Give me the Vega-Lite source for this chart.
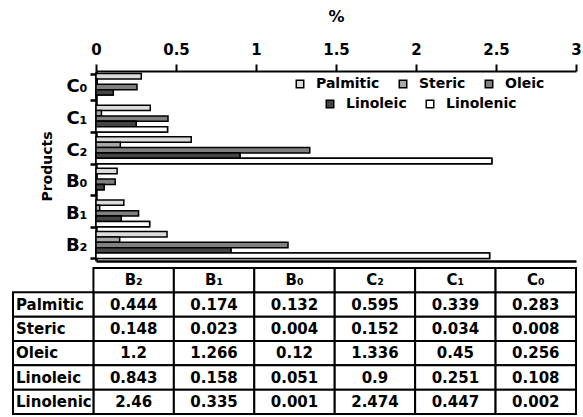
{
  "$schema": "https://vega.github.io/schema/vega-lite/v6.json",
  "background": "white",
  "padding": {"left": 12, "top": 8, "right": 0, "bottom": 0},
  "spacing": 6,
  "config": {
    "view": {"stroke": null},
    "font": "DejaVu Sans",
    "axis": {
      "labelFont": "DejaVu Sans", "titleFont": "DejaVu Sans",
      "labelFontWeight": "bold", "titleFontWeight": "bold",
      "labelColor": "black", "titleColor": "black",
      "domainColor": "black", "tickColor": "black", "grid": false
    },
    "legend": {
      "labelFont": "DejaVu Sans", "labelFontWeight": "bold", "labelFontSize": 14,
      "labelColor": "black", "symbolType": "square", "symbolSize": 56,
      "symbolStrokeColor": "black", "symbolStrokeWidth": 1.5, "labelOffset": 9,
      "columnPadding": 16, "padding": 0, "symbolOpacity": 1
    }
  },
  "datasets": {
    "fat": [
      {"product": "B₂", "series": "Palmitic", "value": 0.444, "label": "0.444"},
      {"product": "B₂", "series": "Steric", "value": 0.148, "label": "0.148"},
      {"product": "B₂", "series": "Oleic", "value": 1.2, "label": "1.2"},
      {"product": "B₂", "series": "Linoleic", "value": 0.843, "label": "0.843"},
      {"product": "B₂", "series": "Linolenic", "value": 2.46, "label": "2.46"},
      {"product": "B₁", "series": "Palmitic", "value": 0.174, "label": "0.174"},
      {"product": "B₁", "series": "Steric", "value": 0.023, "label": "0.023"},
      {"product": "B₁", "series": "Oleic", "value": 0.266, "label": "1.266"},
      {"product": "B₁", "series": "Linoleic", "value": 0.158, "label": "0.158"},
      {"product": "B₁", "series": "Linolenic", "value": 0.335, "label": "0.335"},
      {"product": "B₀", "series": "Palmitic", "value": 0.132, "label": "0.132"},
      {"product": "B₀", "series": "Steric", "value": 0.004, "label": "0.004"},
      {"product": "B₀", "series": "Oleic", "value": 0.12, "label": "0.12"},
      {"product": "B₀", "series": "Linoleic", "value": 0.051, "label": "0.051"},
      {"product": "B₀", "series": "Linolenic", "value": 0.001, "label": "0.001"},
      {"product": "C₂", "series": "Palmitic", "value": 0.595, "label": "0.595"},
      {"product": "C₂", "series": "Steric", "value": 0.152, "label": "0.152"},
      {"product": "C₂", "series": "Oleic", "value": 1.336, "label": "1.336"},
      {"product": "C₂", "series": "Linoleic", "value": 0.9, "label": "0.9"},
      {"product": "C₂", "series": "Linolenic", "value": 2.474, "label": "2.474"},
      {"product": "C₁", "series": "Palmitic", "value": 0.339, "label": "0.339"},
      {"product": "C₁", "series": "Steric", "value": 0.034, "label": "0.034"},
      {"product": "C₁", "series": "Oleic", "value": 0.45, "label": "0.45"},
      {"product": "C₁", "series": "Linoleic", "value": 0.251, "label": "0.251"},
      {"product": "C₁", "series": "Linolenic", "value": 0.447, "label": "0.447"},
      {"product": "C₀", "series": "Palmitic", "value": 0.283, "label": "0.283"},
      {"product": "C₀", "series": "Steric", "value": 0.008, "label": "0.008"},
      {"product": "C₀", "series": "Oleic", "value": 0.256, "label": "0.256"},
      {"product": "C₀", "series": "Linoleic", "value": 0.108, "label": "0.108"},
      {"product": "C₀", "series": "Linolenic", "value": 0.002, "label": "0.002"}
    ]
  },
  "vconcat": [
    {
      "width": 563,
      "height": 190,
      "data": {"name": "fat"},
      "layer": [
        {
          "mark": {"type": "bar", "stroke": "black", "strokeWidth": 1.5},
          "encoding": {
            "x": {"field": "value", "type": "quantitative",
              "scale": {"domain": [0, 3], "range": [83, 563], "nice": false},
              "axis": {"orient": "top", "title": "%", "values": [0, 0.5, 1, 1.5, 2, 2.5, 3], "format": "~g",
                "labelFontSize": 15, "titleFontSize": 16, "tickSize": 7, "tickWidth": 2,
                "domainWidth": 2, "labelPadding": 7, "titlePadding": 18,
                "labelFlush": false, "labelOverlap": false}},
            "y": {"field": "product", "type": "nominal",
              "sort": ["C₀", "C₁", "C₂", "B₀", "B₁", "B₂"],
              "scale": {"paddingInner": 0.15, "paddingOuter": 0.08},
              "axis": {"title": "Products", "offset": -83, "tickBand": "extent",
                "labelFontSize": 18, "titleFontSize": 14, "tickSize": 6, "tickWidth": 2.5,
                "domainWidth": 2.5, "labelPadding": 3, "titlePadding": 11, "labelAngle": 0}},
            "yOffset": {"field": "series", "type": "nominal",
              "sort": ["Palmitic", "Steric", "Oleic", "Linoleic", "Linolenic"],
              "scale": {"paddingInner": 0, "paddingOuter": 0}},
            "fill": {"field": "series", "type": "nominal",
              "scale": {"domain": ["Palmitic", "Steric", "Oleic", "Linoleic", "Linolenic"],
                "range": ["#dcdcdc", "#a8a8a8", "#808080", "#454545", "#ffffff"]},
              "legend": {"values": ["Palmitic", "Steric", "Oleic"], "orient": "none",
                "legendX": 280, "legendY": 6, "direction": "horizontal", "columns": 3, "title": null}}
          }
        },
        {
          "transform": [{"filter": {"field": "series", "oneOf": ["Linoleic", "Linolenic"]}}],
          "mark": {"type": "bar", "stroke": "black", "strokeWidth": 1.5},
          "encoding": {
            "x": {"field": "value", "type": "quantitative",
              "scale": {"domain": [0, 3], "range": [83, 563], "nice": false},
              "axis": {"orient": "bottom", "title": null, "labels": false, "ticks": false,
                "domainWidth": 2.5}},
            "y": {"field": "product", "type": "nominal",
              "sort": ["C₀", "C₁", "C₂", "B₀", "B₁", "B₂"], "axis": null},
            "yOffset": {"field": "series", "type": "nominal",
              "sort": ["Palmitic", "Steric", "Oleic", "Linoleic", "Linolenic"]},
            "color": {"field": "series", "type": "nominal",
              "scale": {"domain": ["Linoleic", "Linolenic"],
                "range": ["#454545", "#ffffff"]},
              "legend": {"orient": "none",
                "legendX": 310, "legendY": 26, "direction": "horizontal", "columns": 2, "title": null}}
          }
        }
      ],
      "resolve": {"axis": {"x": "independent", "y": "independent"}}
    },
    {
      "width": 563,
      "height": 146,
      "data": {"name": "fat"},
      "layer": [
        {
          "mark": {"type": "rect", "fill": "white", "stroke": "black", "strokeWidth": 2},
          "encoding": {
            "x": {"field": "product", "type": "nominal",
              "scale": {"domain": ["row", "B₂", "B₁", "B₀", "C₂", "C₁", "C₀"], "paddingInner": 0, "paddingOuter": 0}, "axis": null},
            "y": {"field": "series", "type": "nominal",
              "scale": {"domain": ["col", "Palmitic", "Steric", "Oleic", "Linoleic", "Linolenic"], "paddingInner": 0, "paddingOuter": 0}, "axis": null}
          }
        },
        {
          "mark": {"type": "text", "font": "DejaVu Sans", "fontWeight": "bold", "fontSize": 15, "baseline": "middle", "color": "black"},
          "encoding": {
            "x": {"field": "product", "type": "nominal",
              "scale": {"domain": ["row", "B₂", "B₁", "B₀", "C₂", "C₁", "C₀"], "paddingInner": 0, "paddingOuter": 0}, "axis": null},
            "y": {"field": "series", "type": "nominal",
              "scale": {"domain": ["col", "Palmitic", "Steric", "Oleic", "Linoleic", "Linolenic"], "paddingInner": 0, "paddingOuter": 0}, "axis": null},
            "text": {"field": "label", "type": "nominal"}
          }
        },
        {
          "transform": [{"aggregate": [{"op": "count", "as": "n"}], "groupby": ["product"]}],
          "mark": {"type": "rect", "fill": "white", "stroke": "black", "strokeWidth": 2},
          "encoding": {
            "x": {"field": "product", "type": "nominal",
              "scale": {"domain": ["row", "B₂", "B₁", "B₀", "C₂", "C₁", "C₀"], "paddingInner": 0, "paddingOuter": 0}, "axis": null},
            "y": {"datum": "col", "type": "nominal",
              "scale": {"domain": ["col", "Palmitic", "Steric", "Oleic", "Linoleic", "Linolenic"], "paddingInner": 0, "paddingOuter": 0}, "axis": null}
          }
        },
        {
          "transform": [{"aggregate": [{"op": "count", "as": "n"}], "groupby": ["product"]}],
          "mark": {"type": "text", "font": "DejaVu Sans", "fontWeight": "bold", "fontSize": 15, "baseline": "middle", "color": "black"},
          "encoding": {
            "x": {"field": "product", "type": "nominal",
              "scale": {"domain": ["row", "B₂", "B₁", "B₀", "C₂", "C₁", "C₀"], "paddingInner": 0, "paddingOuter": 0}, "axis": null},
            "y": {"datum": "col", "type": "nominal",
              "scale": {"domain": ["col", "Palmitic", "Steric", "Oleic", "Linoleic", "Linolenic"], "paddingInner": 0, "paddingOuter": 0}, "axis": null},
            "text": {"field": "product", "type": "nominal"}
          }
        },
        {
          "transform": [{"aggregate": [{"op": "count", "as": "n"}], "groupby": ["series"]}],
          "mark": {"type": "rect", "fill": "white", "stroke": "black", "strokeWidth": 2},
          "encoding": {
            "x": {"datum": "row", "type": "nominal",
              "scale": {"domain": ["row", "B₂", "B₁", "B₀", "C₂", "C₁", "C₀"], "paddingInner": 0, "paddingOuter": 0}, "axis": null},
            "y": {"field": "series", "type": "nominal",
              "scale": {"domain": ["col", "Palmitic", "Steric", "Oleic", "Linoleic", "Linolenic"], "paddingInner": 0, "paddingOuter": 0}, "axis": null}
          }
        },
        {
          "transform": [{"aggregate": [{"op": "count", "as": "n"}], "groupby": ["series"]}],
          "mark": {"type": "text", "font": "DejaVu Sans", "fontWeight": "bold", "fontSize": 15, "baseline": "middle", "align": "left", "dx": 3, "color": "black"},
          "encoding": {
            "x": {"datum": "row", "type": "nominal", "bandPosition": 0,
              "scale": {"domain": ["row", "B₂", "B₁", "B₀", "C₂", "C₁", "C₀"], "paddingInner": 0, "paddingOuter": 0}, "axis": null},
            "y": {"field": "series", "type": "nominal",
              "scale": {"domain": ["col", "Palmitic", "Steric", "Oleic", "Linoleic", "Linolenic"], "paddingInner": 0, "paddingOuter": 0}, "axis": null},
            "text": {"field": "series", "type": "nominal"}
          }
        }
      ]
    }
  ]
}
